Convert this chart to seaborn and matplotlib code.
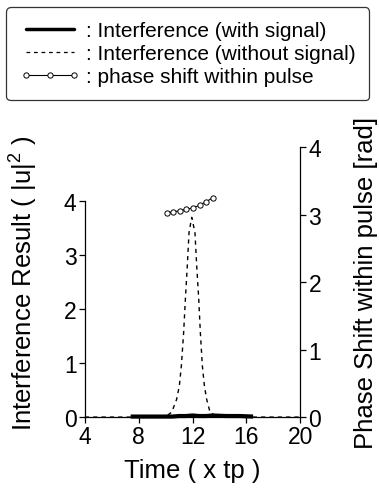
import matplotlib
matplotlib.use("Agg")
import matplotlib.pyplot as plt
import seaborn as sns
import pandas as pd
from matplotlib.lines import Line2D

# Interference without signal (dashed pulse)
t_nosig = [4.0, 8.0, 10.0, 10.45, 10.82, 11.02, 11.17, 11.34, 11.47, 11.61, 11.74,
           11.94, 12.18, 12.31, 12.46, 12.58, 12.73, 12.88, 13.05, 13.3, 13.8, 16.0, 20.0]
v_nosig = [0.0, 0.0, 0.01, 0.09, 0.33, 0.58, 0.95, 1.57, 2.19, 2.80, 3.42,
           3.70, 3.42, 2.80, 2.19, 1.57, 0.95, 0.58, 0.33, 0.09, 0.01, 0.0, 0.0]

# Interference with signal (stays near zero)
t_sig = [7.4, 8.5, 9.5, 10.5, 11.0, 11.5, 12.0, 12.5, 13.0, 13.5, 14.5, 15.5, 16.5]
v_sig = [0.01, 0.01, 0.01, 0.01, 0.02, 0.02, 0.03, 0.02, 0.02, 0.03, 0.02, 0.02, 0.01]

# Phase shift within pulse
t_phase = [10.1, 10.58, 11.07, 11.55, 12.03, 12.52, 13.0, 13.5]
v_phase = [3.03, 3.04, 3.06, 3.08, 3.10, 3.14, 3.19, 3.25]

x_ticks = [4, 8, 12, 16, 20]
left_ticks = [0, 1, 2, 3, 4]
right_ticks = [0, 1, 2, 3, 4]

sns.set_theme(style="ticks")
plt.rcParams["font.family"] = ["Liberation Sans", "DejaVu Sans"]
plt.rcParams["mathtext.default"] = "regular"
plt.rcParams["text.color"] = "black"
plt.rcParams["axes.labelcolor"] = "black"

fig = plt.figure(figsize=(3.79, 4.89), dpi=100)
ax = fig.add_axes([0.224, 0.145, 0.568, 0.552])
ax2 = ax.twinx()

df_nosig = pd.DataFrame({"t": t_nosig, "v": v_nosig})
df_sig = pd.DataFrame({"t": t_sig, "v": v_sig})
df_phase = pd.DataFrame({"t": t_phase, "v": v_phase})

sns.lineplot(data=df_nosig, x="t", y="v", ax=ax, color="black", lw=1.0,
             linestyle=(0, (3, 3)), clip_on=False)
sns.lineplot(data=df_sig, x="t", y="v", ax=ax, color="black", lw=3.0,
             solid_capstyle="butt", clip_on=False)
sns.lineplot(data=df_phase, x="t", y="v", ax=ax2, color="black", lw=0.8,
             marker="o", markersize=3.8, markerfacecolor="white",
             markeredgecolor="black", markeredgewidth=0.7)

ax.set_xlim(4, 20)
ax.set_ylim(0, 5.0)
ax2.set_ylim(0, 3.97)
ax.set_xticks(x_ticks)
ax.set_yticks(left_ticks)
ax2.set_yticks(right_ticks)

for a in (ax, ax2):
    a.spines["top"].set_visible(False)
    for s in a.spines.values():
        s.set_linewidth(0.9)
        s.set_color("black")
    a.tick_params(direction="out", length=4, width=0.9, colors="black",
                  labelsize=16.5, pad=2)
ax.spines["left"].set_bounds(0, 4)
ax.spines["right"].set_visible(False)
ax2.spines["left"].set_visible(False)
ax2.spines["bottom"].set_visible(False)

ax.set_xlabel("Time ( x tp )", fontsize=18.5, labelpad=7)
ax.set_ylabel("Interference Result ( |u|$^2$ )", fontsize=18.5)
ax.yaxis.set_label_coords(-0.21, 0.5)
ax2.set_ylabel("Phase Shift within pulse [rad]", fontsize=18.5)
ax2.yaxis.set_label_coords(1.25, 0.5)

handles = [
    Line2D([], [], color="black", lw=2.5),
    Line2D([], [], color="black", lw=0.9, linestyle=(0, (3, 3))),
    Line2D([], [], color="black", lw=0.8, marker="o", markersize=3.8,
           markerfacecolor="white", markeredgewidth=0.7),
]
labels = [": Interference (with signal)",
          ": Interference (without signal)",
          ": phase shift within pulse"]
leg = fig.legend(handles, labels, loc="upper center", bbox_to_anchor=(0.495, 1.004),
                 fontsize=15, frameon=True, fancybox=True, edgecolor="black",
                 numpoints=3, handlelength=2.9, handletextpad=0.25,
                 labelspacing=0.2, borderpad=0.65)
leg.get_frame().set_linewidth(0.9)

fig.savefig("out.png", dpi=100)
